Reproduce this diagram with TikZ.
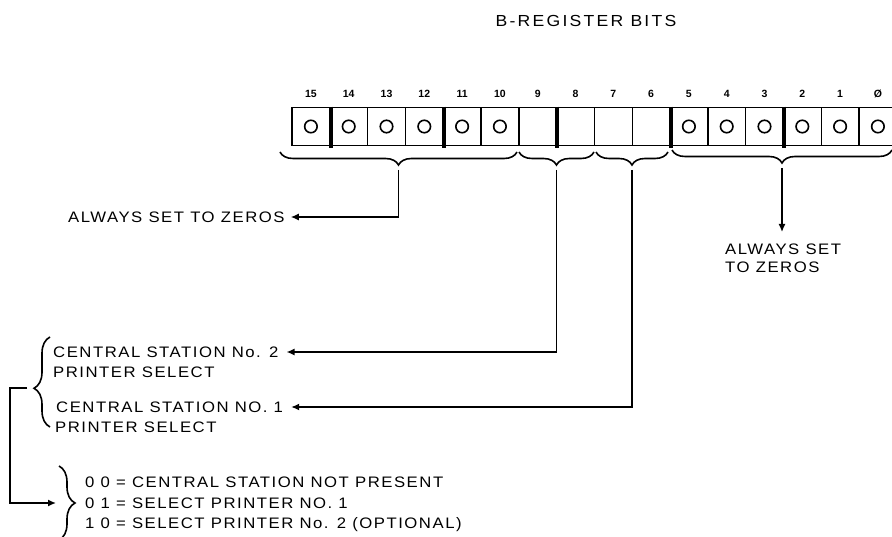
\documentclass[tikz,border=0pt]{standalone}
\usepackage{fontspec}
\setmainfont[FakeStretch=1.1,LetterSpace=10]{Liberation Sans}
\newfontfamily\titlefont[FakeStretch=1.1,LetterSpace=14]{Liberation Sans}
\newfontfamily\numfont{Liberation Sans}
\usetikzlibrary{decorations.pathreplacing,arrows.meta,calc}
\begin{document}
\begin{tikzpicture}[x=1pt,y=-1pt,
  lbl/.style={font=\fontsize{15.2}{18}\selectfont, inner sep=0pt, anchor=west, align=left},
  conn/.style={line width=1.4pt, -{Latex[length=8pt,width=7pt]}},
  cell/.style={draw, line width=1.4pt, minimum width=37.8pt, minimum height=38.5pt, inner sep=0pt},
  sep/.style={line width=4pt},
  circ/.style={draw, circle, line width=1.6pt, minimum size=12.5pt, inner sep=0pt},
  bitnum/.style={font=\numfont\bfseries\fontsize{10.5}{11}\selectfont, inner sep=0pt},
  bracedown/.style={line width=1.6pt, decorate, decoration={brace, mirror, amplitude=13pt}},
  bracev/.style={line width=1.6pt, decorate, decoration={brace, amplitude=16pt, aspect=#1}},
]
\useasboundingbox (0,0) rectangle (892,537);

% title
\node[inner sep=0pt, font=\titlefont\fontsize{16}{18}\selectfont] (title) at (586,21) {B-REGISTER BITS};

% register cells
\foreach \i in {0,...,15} {
  \pgfmathtruncatemacro\b{15-\i}
  \pgfmathsetmacro\xc{292+37.8*\i+18.9}
  \node[cell] (c\b) at (\xc,126.5) {};
  \node[bitnum] (n\b) at (\xc,94) {\ifnum\b=0 Ø\else\b\fi};
}
% thick separators
\foreach \b in {15,12,9,6,3} {
  \draw[sep] (c\b.north east) -- ($(c\b.south east)+(0,2)$);
}
% circles
\foreach \b in {15,14,13,12,11,10,5,4,3,2,1,0} {
  \node[circ] (o\b) at (c\b) {};
}

% braces under the register
\draw[bracedown] (280,152) -- (517,152);
\draw[bracedown] (519,152) -- (594,152);
\draw[bracedown] (596,152) -- (668,152);
\draw[bracedown] (672,150) -- (892,150);
\coordinate (t1) at (398.5,170);
\coordinate (t2) at (556.5,170);
\coordinate (t3) at (632,170);
\coordinate (t4) at (782,168);

% texts
\node[lbl] (az1) at (68,217) {ALWAYS SET TO ZEROS};
\node[lbl, anchor=north west] (az2) at (725,244) {ALWAYS SET\\TO ZEROS};
\node[lbl] (cs2a) at (53,352) {CENTRAL STATION No. 2};
\node[lbl] (cs2b) at (53,372) {PRINTER SELECT};
\node[lbl] (cs1a) at (56,407) {CENTRAL STATION NO. 1};
\node[lbl] (cs1b) at (55,427) {PRINTER SELECT};
\node[lbl] (p0) at (85,482) {0 0 = CENTRAL STATION NOT PRESENT};
\node[lbl] (p1) at (85,503) {0 1 = SELECT PRINTER NO. 1};
\node[lbl] (p2) at (85,525) {1 0 = SELECT PRINTER No. 2 (OPTIONAL)};

% connectors
\draw[conn, shorten >=6pt] (t1) |- (az1.east);
\draw[conn, shorten >=12pt] (t4) -- (az2.north -| t4);
\draw[conn, shorten >=8pt] (t2) |- (cs2a.east);
\draw[conn, shorten >=8pt] (t3) |- (cs1a.east);

% left braces and bracket
\draw[bracev=0.43] (50,427) -- (50,337);
\draw[bracev=0.5] (59,466) -- (59,540);
\coordinate (lbt) at (27,388);
\coordinate (k1) at (10,388);
\coordinate (rbt) at (56,503);
\draw[conn] (lbt) -- (k1) |- (rbt);
\end{tikzpicture}
\end{document}
